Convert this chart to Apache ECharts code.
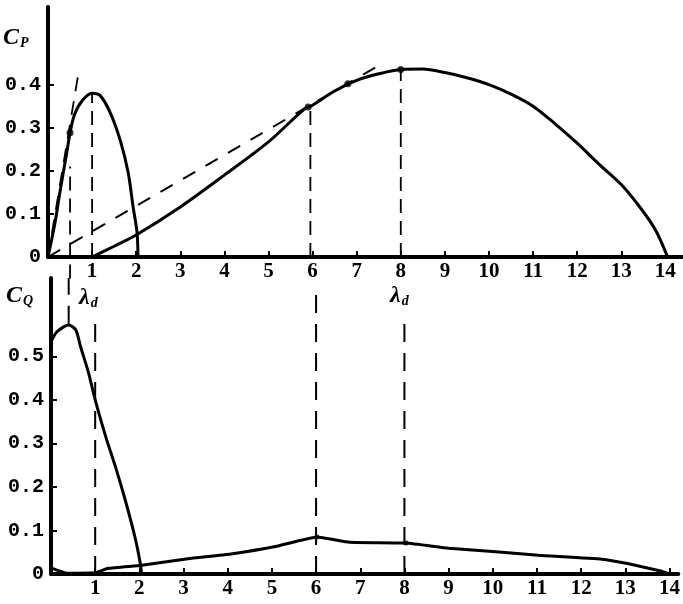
<!DOCTYPE html>
<html>
<head>
<meta charset="utf-8">
<script src="https://cdn.jsdelivr.net/npm/echarts@6/dist/echarts.min.js"></script>
<style>html,body{margin:0;padding:0;background:#fff}#c{width:683px;height:604px}</style>
</head>
<body>
<div id="c"></div>
<script>
// ---- data ----
const lambdaTicks = [1,2,3,4,5,6,7,8,9,10,11,12,13,14];
const cpTicks = [0, 0.1, 0.2, 0.3, 0.4];
const cqTicks = [0, 0.1, 0.2, 0.3, 0.4, 0.5];

// Cp, low tip-speed rotor
const cpLowX = [0, 0.16, 0.27, 0.43, 0.5, 0.6, 0.77, 1.0, 1.18, 1.41, 1.64, 1.82, 1.93, 2.02, 2.04];
const cpLowY = [0, 0.08, 0.15, 0.245, 0.288, 0.33, 0.362, 0.38, 0.375, 0.335, 0.27, 0.195, 0.116, 0.056, 0];
// Cp, high tip-speed rotor
const cpHighX = [1.0, 1.5, 2, 3, 4, 5, 5.8, 6, 6.5, 7, 7.5, 8, 8.5, 9, 9.5, 10, 10.5, 11, 11.5, 12, 12.5, 13, 13.5, 13.8, 14.05];
const cpHighY = [0, 0.025, 0.051, 0.116, 0.19, 0.267, 0.342, 0.352, 0.385, 0.41, 0.425, 0.435, 0.436, 0.428, 0.416, 0.4, 0.378, 0.35, 0.309, 0.264, 0.215, 0.168, 0.105, 0.058, 0];
// tangent (dashed) lines from origin
const tan1X = [0, 0.68];
const tan1Y = [0, 0.42];
const tan2X = [0, 7.6];
const tan2Y = [0, 0.45];
// marked points on Cp curves
const cpDotX = [0.5, 5.9, 6.8, 8.0];
const cpDotY = [0.288, 0.348, 0.402, 0.435];
// vertical dashed guides (top)
const vTopX = [0.5, 1.0, 5.95, 8.0];
const vTopLo = [-0.05, 0, 0, 0];
const vTopHi = [0.21, 0.38, 0.348, 0.435];

// Cq, low tip-speed rotor
const cqLowX = [0, 0.13, 0.4, 0.56, 0.67, 0.85, 1.0, 1.24, 1.46, 1.68, 1.9, 2.02, 2.05];
const cqLowY = [0.533, 0.556, 0.572, 0.561, 0.522, 0.462, 0.40, 0.315, 0.246, 0.17, 0.085, 0.025, 0];
// Cq, high tip-speed rotor
const cqHighX = [0, 0.35, 1.0, 1.3, 2.05, 3.1, 4.07, 5.08, 6.02, 6.76, 8.04, 9.0, 10.07, 11.03, 12.47, 13.05, 13.8, 14.0];
const cqHighY = [0.014, 0.002, 0.003, 0.013, 0.02, 0.035, 0.046, 0.063, 0.085, 0.073, 0.071, 0.059, 0.051, 0.043, 0.034, 0.024, 0.007, 0];
const cqDotX = [6.02, 8.04];
const cqDotY = [0.085, 0.071];
// vertical dashed guides (bottom)
const vBotX = [0.4, 1.0, 6.0, 8.0];
const vBotLo = [0.575, 0, 0, 0];
const vBotHi = [0.68, 0.577, 0.653, 0.584];

// ---- chart ----
const zip = (xs, ys) => xs.map((x, i) => [x, ys[i]]);
const black = '#000';
const serif = 'Liberation Serif';

function solid(xs, ys, gi, sm) {
  return { type: 'line', xAxisIndex: gi, yAxisIndex: gi, data: zip(xs, ys), smooth: sm,
    showSymbol: false, clip: false, lineStyle: { color: black, width: 3 }, z: 3 };
}
function dashed(xs, ys, gi, dash, w) {
  return { type: 'line', xAxisIndex: gi, yAxisIndex: gi, data: zip(xs, ys),
    showSymbol: false, clip: false, lineStyle: { color: black, width: w || 1.8, type: dash }, z: 2 };
}
function dots(xs, ys, gi, size) {
  return { type: 'scatter', xAxisIndex: gi, yAxisIndex: gi, data: zip(xs, ys), symbolSize: size,
    itemStyle: { color: black }, z: 4 };
}

const series = [
  solid(cpLowX, cpLowY, 0, 0.3),
  solid(cpHighX, cpHighY, 0, 0.3),
  dashed(tan1X, tan1Y, 0, [14, 10], 1.8),
  dashed(tan2X, tan2Y, 0, [14, 12], 2),
  dots(cpDotX, cpDotY, 0, 7),
  solid(cqLowX, cqLowY, 1, 0.25),
  solid(cqHighX, cqHighY, 1, 0.12),
  dots(cqDotX, cqDotY, 1, 5)
];
vTopX.forEach((x, i) => series.push(dashed([x, x], [vTopLo[i], vTopHi[i]], 0, [14, 8], 1.8)));
vBotX.forEach((x, i) => series.push(dashed([x, x], [vBotLo[i], vBotHi[i]], 1, [18, 11], 2)));

function xAx(gi, max) {
  return { type: 'value', gridIndex: gi, min: 0, max: max,
    axisLine: { show: true, onZero: false, lineStyle: { color: black, width: 4 } },
    axisTick: { show: true, inside: true, length: 6, customValues: lambdaTicks, lineStyle: { color: black, width: 2 } },
    axisLabel: { customValues: lambdaTicks, margin: 4, color: black, fontFamily: serif, fontSize: 21, fontWeight: 'bold' },
    splitLine: { show: false } };
}
function yAx(gi, max, ticks) {
  return { type: 'value', gridIndex: gi, min: 0, max: max,
    axisLine: { show: true, onZero: false, lineStyle: { color: black, width: 4 } },
    axisTick: { show: true, inside: true, length: 6, customValues: ticks.filter(v => v > 0), lineStyle: { color: black, width: 2 } },
    axisLabel: { customValues: ticks, margin: 7, color: black, fontFamily: 'Liberation Mono', fontSize: 20, fontWeight: 'bold',
      formatter: v => (v === 0 ? '0' : v.toFixed(1)) },
    splitLine: { show: false } };
}

function sub(main, s, x, y) {
  return { type: 'text', left: x, top: y, style: {
    text: '{m|' + main + '}{s|' + s + '}',
    rich: {
      m: { fontFamily: serif, fontStyle: 'italic', fontWeight: 'bold', fontSize: 24, fill: black },
      s: { fontFamily: serif, fontStyle: 'italic', fontWeight: 'bold', fontSize: 14, fill: black, verticalAlign: 'bottom', padding: [10, 0, 0, 1] }
    } } };
}

const chart = echarts.init(document.getElementById('c'), null, { renderer: 'canvas' });
chart.setOption({
  animation: false,
  backgroundColor: '#fff',
  grid: [
    { left: 48, top: 7, width: 635, height: 250 },
    { left: 51, top: 278, width: 632, height: 296 }
  ],
  xAxis: [xAx(0, 14.4), xAx(1, 14.2)],
  yAxis: [yAx(0, 0.58, cpTicks), yAx(1, 0.68, cqTicks)],
  series: series,
  graphic: [
    sub('C', 'P', 3, 26),
    sub('C', 'Q', 6, 284),
    sub('λ', 'd', 79, 286),
    sub('λ', 'd', 390, 284)
  ]
});
</script>
</body>
</html>
